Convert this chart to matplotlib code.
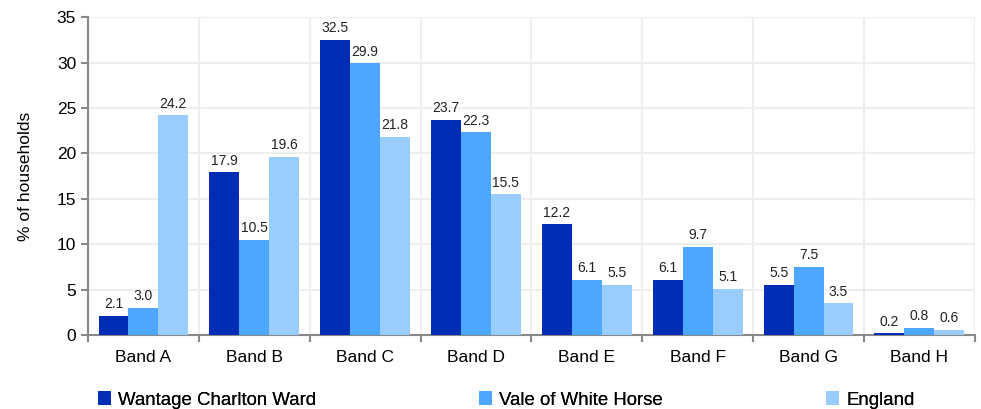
import numpy as np
import matplotlib
matplotlib.use('Agg')
import matplotlib.pyplot as plt

bands = ['Band A', 'Band B', 'Band C', 'Band D', 'Band E', 'Band F', 'Band G', 'Band H']
series_names = ['Wantage Charlton Ward', 'Vale of White Horse', 'England']
wantage = [2.1, 17.9, 32.5, 23.7, 12.2, 6.1, 5.5, 0.2]
vale = [3.0, 10.5, 29.9, 22.3, 6.1, 9.7, 7.5, 0.8]
england = [24.2, 19.6, 21.8, 15.5, 5.5, 5.1, 3.5, 0.6]
colors = ['#002db3', '#4da6ff', '#99ccff']

plt.rcParams['font.family'] = ['Liberation Sans', 'DejaVu Sans']

fig = plt.figure(figsize=(9.81, 4.09), dpi=100)
ax = fig.add_axes([0.0897, 0.181, 0.904, 0.777])

x = np.arange(len(bands))
w = 0.27
handles = []
for i, (vals, name) in enumerate(zip([wantage, vale, england], series_names)):
    pos = x + (i - 1) * w
    bars = ax.bar(pos, vals, width=w, color=colors[i], label=name, zorder=3)
    handles.append(bars)
    for p, v in zip(pos, vals):
        ax.text(p, v + 0.5, f'{v:.1f}', ha='center', va='bottom', fontsize=10, color='#222222', zorder=4)

ax.set_xlim(-0.5, len(bands) - 0.5)
ax.set_ylim(0, 35)
ax.set_yticks(range(0, 36, 5))
ax.set_xticks(x)
ax.set_xticklabels(bands)
ax.set_xticks(np.arange(-0.5, len(bands), 1), minor=True)
ax.tick_params(axis='x', which='major', length=0, pad=11, labelsize=12.5)
ax.tick_params(axis='x', which='minor', length=5, color='#888888', width=1.5)
ax.tick_params(axis='y', length=5, color='#888888', width=1.5, labelsize=12.5)
ax.grid(True, axis='y', color='#eeeeee', linewidth=1.5, zorder=0)
ax.grid(True, axis='x', which='minor', color='#eeeeee', linewidth=1.5, zorder=0)
for s in ['top', 'right']:
    ax.spines[s].set_visible(False)
for s in ['left', 'bottom']:
    ax.spines[s].set_color('#888888')
    ax.spines[s].set_linewidth(1.5)
ax.set_ylabel('% of households', fontsize=12.5)
ax.yaxis.set_label_coords(-0.062, 0.5)

# legend entries are placed one by one, like the original
leg_x = [98, 479, 826]
for h, name, lx in zip(handles, series_names, leg_x):
    lg = fig.legend([h], [name], loc='center left', bbox_to_anchor=(lx / 981, 1 - 400 / 409),
                    frameon=False, fontsize=13.4, handlelength=0.7, handleheight=0.7,
                    handletextpad=0.4, borderpad=0, borderaxespad=0)
    fig.add_artist(lg)

fig.savefig('out.png', dpi=100)
